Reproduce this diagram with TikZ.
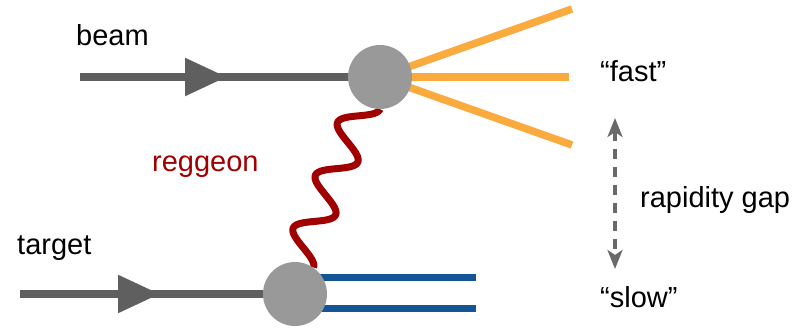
\documentclass[tikz,border=0pt]{standalone}
\usepackage{fontspec}
\setmainfont{Liberation Sans}
\usetikzlibrary{arrows.meta,decorations.markings,backgrounds,calc}

\definecolor{linegray}{RGB}{95,95,95}
\definecolor{blobgray}{RGB}{153,153,153}
\definecolor{fastorange}{RGB}{251,170,62}
\definecolor{slowblue}{RGB}{20,85,150}
\definecolor{reggeonred}{RGB}{160,0,0}
\definecolor{gaygray}{RGB}{105,105,105}

\begin{document}
\begin{tikzpicture}[x=1pt,y=-1pt,
  label/.style={font=\fontsize{29}{34}\selectfont, anchor=base west, inner sep=0},
  blob/.style={circle, fill=blobgray, minimum size=64pt, inner sep=0pt},
  incoming/.style={draw=linegray, line width=8.5pt,
    postaction={decorate},
    decoration={markings, mark=at position #1 with {\arrow[linegray]{Triangle[length=42pt,width=36pt]}}}},
  jet/.style={draw=fastorange, line width=7.5pt},
  remnant/.style={draw=slowblue, line width=7pt},
  exchange/.style={draw=reggeonred, line width=7pt, line join=round},
  gaptip/.tip={Stealth[length=19pt,width=15pt,inset=5pt]},
  gaparrow/.style={draw=gaygray, line width=3.2pt, dash pattern=on 10pt off 8pt,
    gaptip-gaptip}
]
\useasboundingbox (0,0) rectangle (811,328);

% vertices
\node[blob] (up)  at (380,77)  {};
\node[blob] (low) at (295,294) {};

% free ends
\coordinate (beamin)   at (80,77);
\coordinate (targetin) at (20,294);
\coordinate (f1) at (572,9);
\coordinate (f2) at (569,77);
\coordinate (f3) at (572,145);
\coordinate (s1) at (476,278);
\coordinate (s2) at (476,309);
\coordinate (gtop) at (615,118);
\coordinate (gbot) at (615,269);

% texts
\node[label] (beam)   at (76,46)   {beam};
\node[label] (target) at (17,255)  {target};
\node[label, text=reggeonred] (regg) at (152,172) {reggeon};
\node[label] (fast)   at (600,82)  {“fast”};
\node[label] (gap)    at (640,208) {rapidity gap};
\node[label] (slow)   at (600,308) {“slow”};

% incoming lines with arrowheads
\draw[incoming=147pt] (beamin) -- (up);
\draw[incoming=140pt] (targetin) -- (low);

\begin{scope}[on background layer]
  % fast fragments
  \draw[jet] (up.center) -- (f1);
  \draw[jet] (up.center) -- (f2);
  \draw[jet] (up.center) -- (f3);
  % slow remnant
  \draw[remnant] (low.center |- s1) -- (s1);
  \draw[remnant] (low.center |- s2) -- (s2);
  % reggeon exchange
  \coordinate (w0) at (up.south);
  \coordinate (w1) at (low.55);
  \draw[exchange] let \p1=(w0), \p2=(w1), \n1={veclen(\x2-\x1,\y2-\y1)} in
    plot[domain=0:1, samples=220, variable=\t]
    ({\x1+(\x2-\x1)*\t-17*(cos(1080*\t)-1)*(\y2-\y1)/\n1},
     {\y1+(\y2-\y1)*\t+17*(cos(1080*\t)-1)*(\x2-\x1)/\n1});
\end{scope}

% rapidity gap
\draw[gaparrow] (gtop) -- (gbot);
\end{tikzpicture}
\end{document}
